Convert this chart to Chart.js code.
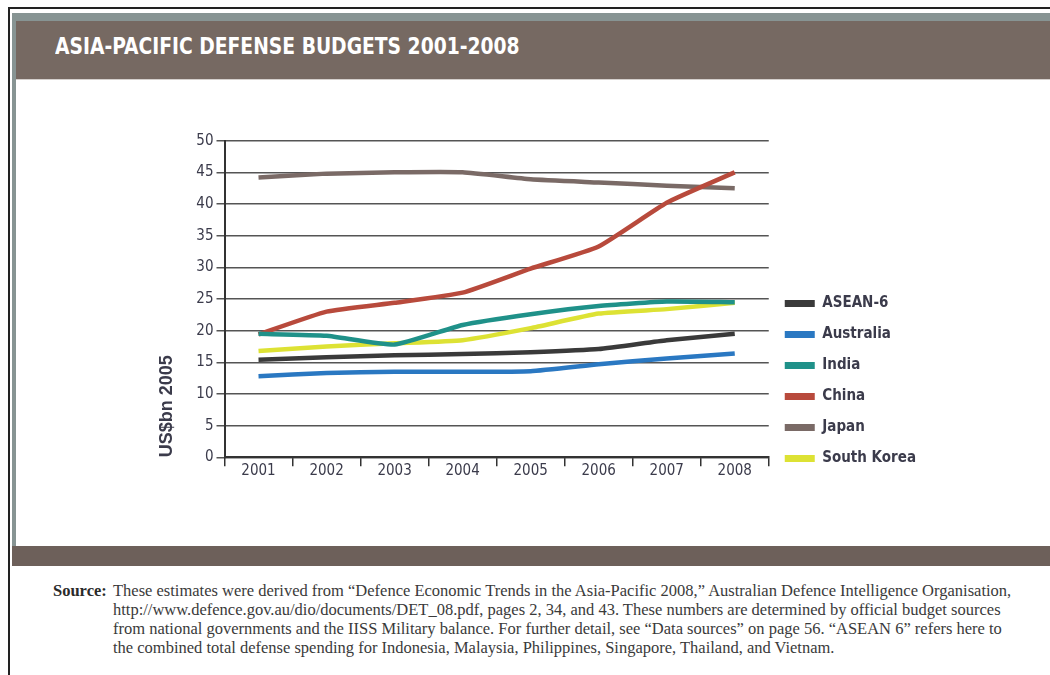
<!DOCTYPE html>
<html>
<head>
<meta charset="utf-8">
<script src="https://cdn.jsdelivr.net/npm/chart.js@4.4.1/dist/chart.umd.min.js"></script>
<style>
  html, body { margin: 0; padding: 0; background: #fff; }
  body { width: 1050px; height: 675px; position: relative; overflow: hidden; }
  .frame-top { position: absolute; left: 8px; top: 7px; width: 1042px; height: 2px; background: #222; }
  .frame-left { position: absolute; left: 8px; top: 7px; width: 2px; height: 668px; background: #222; }
  .strip-top { position: absolute; left: 12px; top: 13px; width: 1038px; height: 8px; background: #879493; }
  .strip-left { position: absolute; left: 12px; top: 13px; width: 4px; height: 553px; background: #879493; }
  .header { position: absolute; left: 16px; top: 21px; width: 1034px; height: 58px; background: #766962; border-bottom: 1px solid #d4cfcc; }
  .header h1 {
    margin: 0; position: absolute; left: 39px; top: 12px; color: #fff;
    font: bold 23px 'DejaVu Sans Condensed', 'Liberation Sans', sans-serif;
    transform: scaleX(0.905); transform-origin: left center; white-space: nowrap;
  }
  .footer-band { position: absolute; left: 12px; top: 546px; width: 1038px; height: 20px; background: #6d605a; }
  .source { position: absolute; left: 53px; top: 581px; font: 16.5px/19px 'Liberation Serif', 'DejaVu Serif', serif; color: #3a3a3a; }
  .source b { position: absolute; left: 0; top: 0; color: #2a2a2a; }
  .source .lines { margin-left: 60px; white-space: nowrap; }
  #chartBox { position: absolute; left: 150px; top: 120px; }
</style>
</head>
<body>
<div class="frame-top"></div>
<div class="frame-left"></div>
<div class="strip-top"></div>
<div class="strip-left"></div>
<div class="header"><h1>ASIA-PACIFIC DEFENSE BUDGETS 2001-2008</h1></div>
<div class="footer-band"></div>
<div class="source">
  <b>Source:</b>
  <div class="lines">
    <div>These estimates were derived from “Defence Economic Trends in the Asia-Pacific 2008,” Australian Defence Intelligence Organisation,</div>
    <div>http://www.defence.gov.au/dio/documents/DET_08.pdf, pages 2, 34, and 43. These numbers are determined by official budget sources</div>
    <div>from national governments and the IISS Military balance. For further detail, see “Data sources” on page 56. “ASEAN 6” refers here to</div>
    <div>the combined total defense spending for Indonesia, Malaysia, Philippines, Singapore, Thailand, and Vietnam.</div>
  </div>
</div>
<div id="chartBox"><canvas id="budgetChart" width="776" height="362"></canvas></div>

<script>
// Defense budgets, US$ billions (2005 prices)
const years = ['2001', '2002', '2003', '2004', '2005', '2006', '2007', '2008'];
const asean6 = [15.4, 15.8, 16.1, 16.3, 16.6, 17.1, 18.5, 19.5];
const australia = [12.8, 13.3, 13.5, 13.5, 13.6, 14.7, 15.6, 16.4];
const india = [19.5, 19.2, 17.8, 20.9, 22.6, 23.9, 24.6, 24.5];
const china = [19.4, 23.0, 24.4, 26.0, 29.8, 33.3, 40.2, 45.0];
const japan = [44.2, 44.8, 45.0, 45.0, 43.9, 43.4, 42.9, 42.5];
const southKorea = [16.8, 17.5, 18.0, 18.5, 20.4, 22.7, 23.4, 24.4];
const yMin = 0;
const yMax = 50;
const yStep = 5;

document.addEventListener('DOMContentLoaded', function () {
    const ctx = document.getElementById('budgetChart').getContext('2d');
    const condensed = "'DejaVu Sans Condensed', 'Liberation Sans', sans-serif";
    const inkColor = '#3b3b4b';

    function series(label, values, color) {
        return {
            label: label,
            data: values,
            borderColor: color,
            backgroundColor: color,
            borderWidth: 4.5,
            pointRadius: 0,
            tension: 0.15,
            fill: false
        };
    }

    const data = {
        labels: years,
        datasets: [
            series('ASEAN-6', asean6, '#3a3a3a'),
            series('Australia', australia, '#2a78c2'),
            series('India', india, '#1f9189'),
            series('China', china, '#b84a3c'),
            series('Japan', japan, '#7a6a66'),
            series('South Korea', southKorea, '#dde234')
        ]
    };

    const config = {
        type: 'line',
        data: data,
        options: {
            responsive: false,
            animation: false,
            layout: { padding: { top: 20.7, left: 0, right: 0, bottom: 0 } },
            plugins: {
                tooltip: { enabled: false },
                legend: {
                    position: 'right',
                    align: 'end',
                    labels: {
                        boxWidth: 30,
                        boxHeight: 7,
                        padding: 16,
                        color: inkColor,
                        font: { family: condensed, size: 15, weight: 'bold' },
                        // solid swatches, no outline
                        generateLabels: function (chart) {
                            return Chart.defaults.plugins.legend.labels.generateLabels(chart).map(function (item) {
                                item.fillStyle = item.strokeStyle;
                                item.lineWidth = 0;
                                return item;
                            });
                        }
                    }
                }
            },
            scales: {
                x: {
                    type: 'category',
                    offset: true,
                    afterFit: function (scale) { scale.height = 24.7; },
                    grid: {
                        offset: true,
                        drawOnChartArea: false,
                        drawTicks: true,
                        tickLength: 9,
                        color: '#333',
                        lineWidth: 1.5
                    },
                    border: { display: true, color: '#333', width: 2 },
                    ticks: {
                        color: inkColor,
                        padding: -3,
                        font: { family: condensed, size: 15, lineHeight: 1 }
                    }
                },
                y: {
                    min: yMin,
                    max: yMax,
                    afterFit: function (scale) { scale.width = 74.5; },
                    grid: {
                        color: '#555',
                        lineWidth: 1.5,
                        drawTicks: true,
                        tickLength: 8
                    },
                    border: { display: true, color: '#333', width: 2 },
                    ticks: {
                        stepSize: yStep,
                        color: inkColor,
                        padding: 3,
                        font: { family: condensed, size: 15 }
                    },
                    title: {
                        display: true,
                        text: 'US$bn 2005',
                        align: 'start',
                        color: inkColor,
                        padding: { top: 6.2, bottom: 0 },
                        font: { family: "'Liberation Sans', Arial, sans-serif", size: 18, weight: 'bold' }
                    }
                }
            }
        }
    };

    new Chart(ctx, config);
});
</script>
</body>
</html>
